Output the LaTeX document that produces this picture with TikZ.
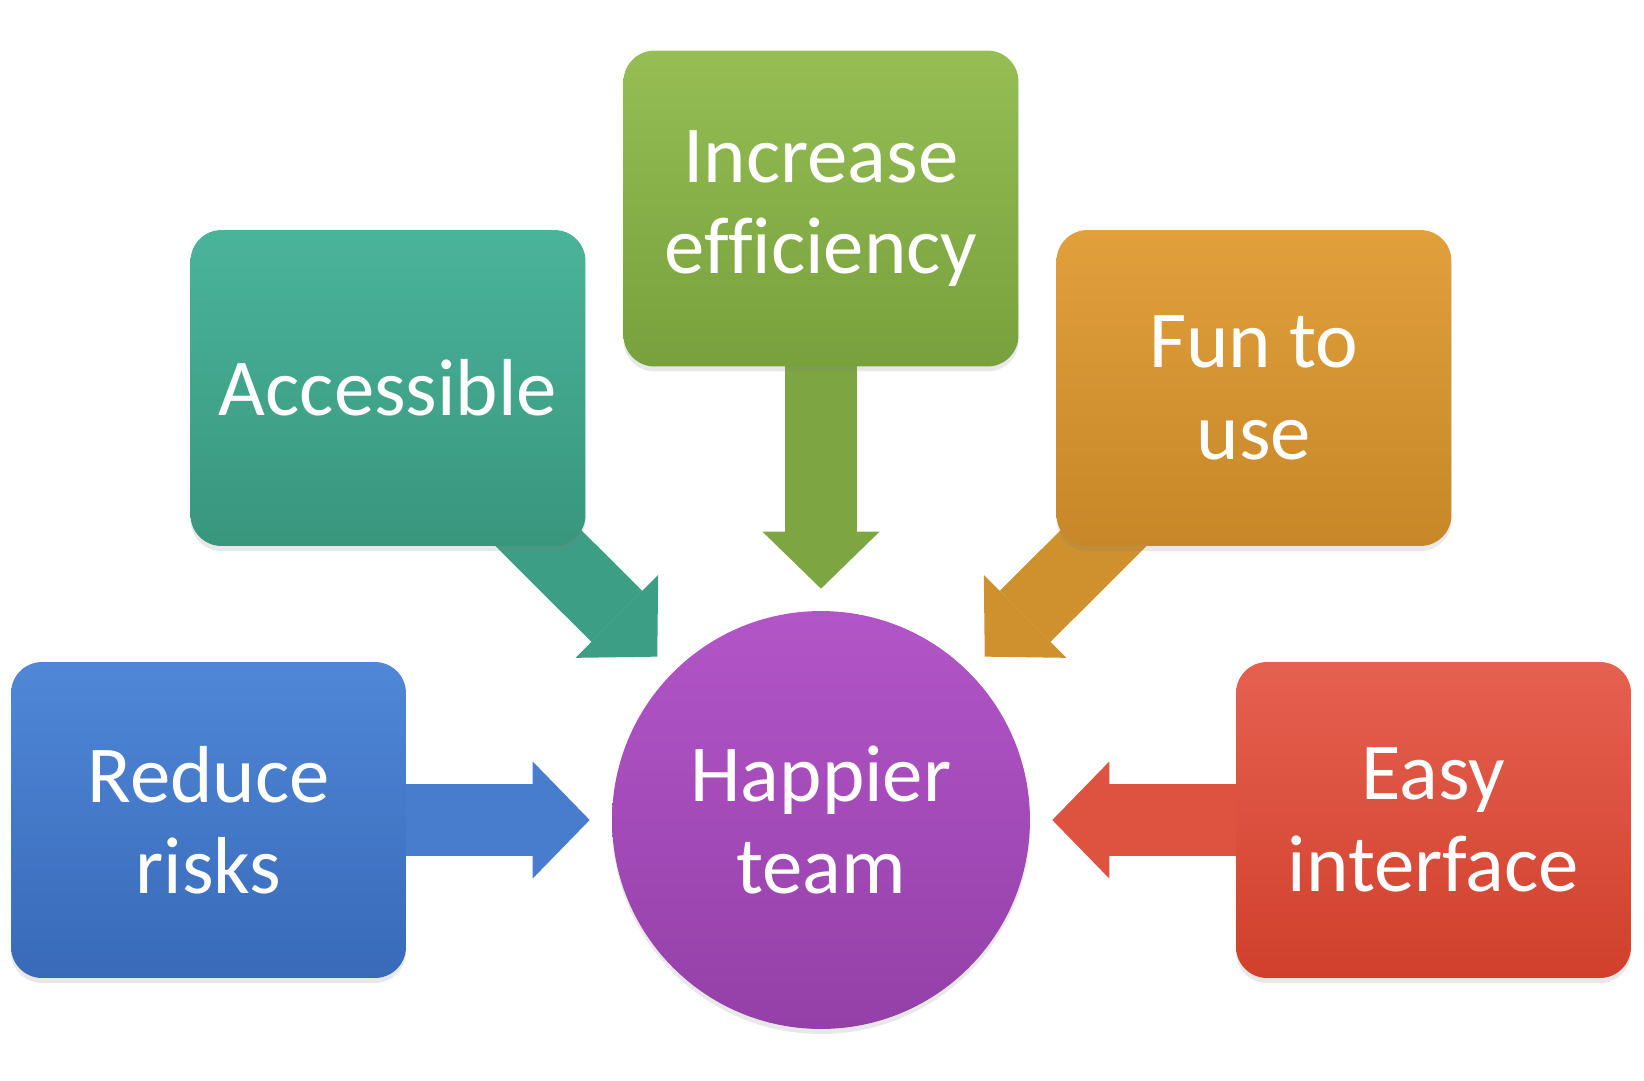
\documentclass[tikz,border=0pt]{standalone}
\usepackage{fontspec}
\setmainfont{Carlito}[Ligatures=CommonOff]
\definecolor{teamTop}{RGB}{178,85,200}
\definecolor{teamBot}{RGB}{148,64,168}
\definecolor{riskTop}{RGB}{80,135,215}
\definecolor{riskBot}{RGB}{56,106,185}
\definecolor{riskArr}{RGB}{72,125,205}
\definecolor{accTop}{RGB}{74,180,155}
\definecolor{accBot}{RGB}{56,150,125}
\definecolor{accArr}{RGB}{60,158,133}
\definecolor{effTop}{RGB}{150,190,85}
\definecolor{effBot}{RGB}{120,160,60}
\definecolor{effArr}{RGB}{125,166,66}
\definecolor{funTop}{RGB}{225,160,60}
\definecolor{funBot}{RGB}{200,135,40}
\definecolor{funArr}{RGB}{207,145,46}
\definecolor{easyTop}{RGB}{230,96,80}
\definecolor{easyBot}{RGB}{208,64,44}
\definecolor{easyArr}{RGB}{222,82,64}
\usetikzlibrary{arrows.meta,positioning,shadows,backgrounds}

\begin{document}
\begin{tikzpicture}[x=0.02cm, y=-0.02cm,
  box/.style={rounded corners=0.62cm, minimum width=7.9cm, minimum height=6.32cm,
              font=\fontsize{46}{52}\selectfont, text=white, align=center,
              drop shadow={shadow xshift=0pt, shadow yshift=-0.1cm, opacity=0.18}},
  goal/.style={circle, minimum size=8.36cm, top color=teamTop, bottom color=teamBot,
               font=\fontsize{46}{52}\selectfont, text=white, align=center,
               drop shadow={shadow xshift=0pt, shadow yshift=-0.1cm, opacity=0.18}},
  feed/.style={line width=1.44cm, shorten >=0.44cm, shorten <=-1cm,
               -{Triangle[length=1.14cm, width=2.34cm, line width=0pt]}}
]
  \useasboundingbox (0,0) rectangle (1644,1080);

  \node[goal] (team) at (821,820) {Happier\\team};
  \node[box, top color=riskTop, bottom color=riskBot] (risk) at (208.5,820) {Reduce\\risks};
  \node[box, top color=accTop, bottom color=accBot]   (acc)  at (388,388)   {Accessible};
  \node[box, top color=effTop, bottom color=effBot]   (eff)  at (821,208.5) {Increase\\efficiency};
  \node[box, top color=funTop, bottom color=funBot]   (fun)  at (1254,388)  {Fun to\\use};
  \node[box, top color=easyTop, bottom color=easyBot] (easy) at (1433.5,820) {Easy\\interface};

  \begin{scope}[on background layer]
    \draw[feed, riskArr] (risk) -- (team);
    \draw[feed, accArr]  (acc)  -- (team);
    \draw[feed, effArr]  (eff)  -- (team);
    \draw[feed, funArr]  (fun)  -- (team);
    \draw[feed, easyArr] (easy) -- (team);
  \end{scope}
\end{tikzpicture}
\end{document}
